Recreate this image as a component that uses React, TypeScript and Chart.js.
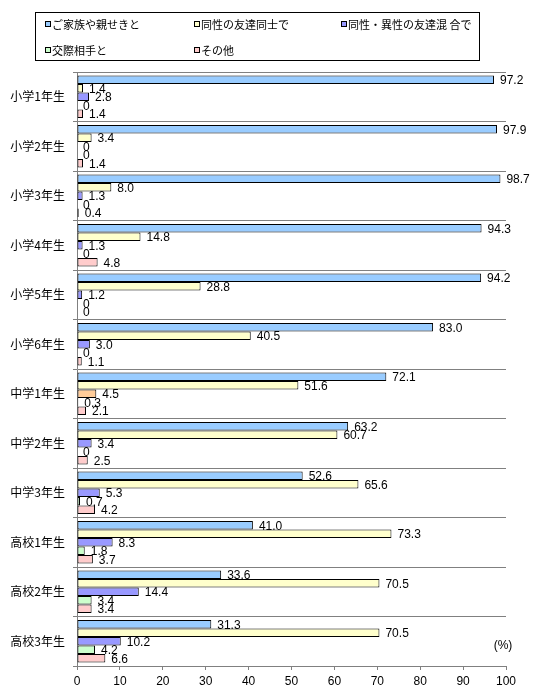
import { useEffect, useRef } from 'react';
import { Chart, registerables } from 'chart.js';

Chart.register(...registerables);

// School years (one group of bars each)
const categories = [
  '小学1年生', '小学2年生', '小学3年生', '小学4年生', '小学5年生', '小学6年生',
  '中学1年生', '中学2年生', '中学3年生', '高校1年生', '高校2年生', '高校3年生',
];

const seriesNames = [
  'ご家族や親せきと',
  '同性の友達同士で',
  '同性・異性の友達混 合で',
  '交際相手と',
  'その他',
];

// Percentages per school year
const withFamily = [97.2, 97.9, 98.7, 94.3, 94.2, 83.0, 72.1, 63.2, 52.6, 41.0, 33.6, 31.3];
const sameSexFriends = [1.4, 3.4, 8.0, 14.8, 28.8, 40.5, 51.6, 60.7, 65.6, 73.3, 70.5, 70.5];
const mixedFriends = [2.8, 0, 1.3, 1.3, 1.2, 3.0, 4.5, 3.4, 5.3, 8.3, 14.4, 10.2];
const withPartner = [0, 0, 0, 0, 0, 0, 0.3, 0, 0.7, 1.8, 3.4, 4.2];
const otherPeople = [1.4, 1.4, 0.4, 4.8, 0, 1.1, 2.1, 2.5, 4.2, 3.7, 3.4, 6.6];

const xTickValues = [0, 10, 20, 30, 40, 50, 60, 70, 80, 90, 100];
const unitLabel = '(%)';

const seriesColors = ['#99CCFF', '#FFFFCC', '#9999FF', '#CCFFCC', '#FFCCCC'];

const CJK = '"Noto Sans CJK JP", "Noto Sans", sans-serif';
const NUM = '"Liberation Sans", Arial, sans-serif';

const fmt = (v: number) => (v === 0 ? '0' : v.toFixed(1));

// Bordered legend box with fixed columns
const legendBoxPlugin = {
  id: 'legendBox',
  afterDraw(chart: any) {
    const ctx = chart.ctx;
    ctx.save();
    ctx.strokeStyle = '#000';
    ctx.lineWidth = 1;
    ctx.strokeRect(35.5, 12.5, 444, 48);
    const cols = [45, 194, 341];
    const rows = [25, 51];
    const slots = [
      [0, 0], [1, 0], [2, 0],
      [0, 1], [1, 1],
    ];
    ctx.font = '11px ' + CJK;
    ctx.textBaseline = 'middle';
    ctx.textAlign = 'left';
    chart.data.datasets.forEach((ds: any, i: number) => {
      const [c, r] = slots[i];
      const x = cols[c];
      const y = rows[r];
      ctx.fillStyle = seriesColors[i];
      ctx.fillRect(x + 0.5, y - 3.5, 5, 5);
      ctx.strokeStyle = '#000';
      ctx.strokeRect(x + 0.5, y - 3.5, 5, 5);
      ctx.fillStyle = '#000';
      ctx.fillText(ds.label, x + 7, y);
    });
    ctx.restore();
  },
};

// Value printed just past the end of each bar, plus the unit note
const valueLabelPlugin = {
  id: 'valueLabels',
  afterDatasetsDraw(chart: any) {
    const ctx = chart.ctx;
    ctx.save();
    ctx.font = '12px ' + NUM;
    ctx.fillStyle = '#000';
    ctx.textBaseline = 'middle';
    ctx.textAlign = 'left';
    chart.data.datasets.forEach((ds: any, di: number) => {
      const meta = chart.getDatasetMeta(di);
      meta.data.forEach((el: any, i: number) => {
        const v = ds.data[i];
        ctx.fillText(fmt(v), el.x + 6, el.y + 1);
      });
    });
    const area = chart.chartArea;
    ctx.textAlign = 'center';
    ctx.fillText(unitLabel, area.right - 3, area.bottom - 20);
    ctx.restore();
  },
};

export default function App() {
  const canvasRef = useRef<HTMLCanvasElement | null>(null);

  useEffect(() => {
    if (!canvasRef.current) return;
    const mixedColors = mixedFriends.map((_, i) => (i === 6 ? '#FFCC99' : seriesColors[2]));
    const partnerColors = withPartner.map((_, i) => (i === 6 ? '#FFFFFF' : seriesColors[3]));
    const values = [withFamily, sameSexFriends, mixedFriends, withPartner, otherPeople];
    const fills: any[] = [seriesColors[0], seriesColors[1], mixedColors, partnerColors, seriesColors[4]];

    const chart = new Chart(canvasRef.current, {
      type: 'bar',
      data: {
        labels: categories,
        datasets: values.map((data, i) => ({
          label: seriesNames[i],
          data,
          backgroundColor: fills[i],
          borderColor: '#000000',
          borderWidth: 1,
          borderSkipped: false,
          categoryPercentage: 0.86,
          barPercentage: 1.0,
        })),
      },
      options: {
        indexAxis: 'y',
        responsive: false,
        animation: false,
        devicePixelRatio: 1,
        layout: { padding: { top: 72, right: 34, left: 0, bottom: 0 } },
        plugins: {
          legend: { display: false },
          tooltip: { enabled: false },
        },
        scales: {
          x: {
            min: 0,
            max: 100,
            afterBuildTicks: (scale: any) => {
              scale.ticks = xTickValues.map((v) => ({ value: v }));
            },
            afterFit: (scale: any) => {
              scale.height = 34;
            },
            ticks: {
              color: '#000',
              font: { size: 12, family: NUM },
              padding: 4,
              maxRotation: 0,
              autoSkip: false,
            },
            grid: {
              drawOnChartArea: false,
              drawTicks: true,
              tickLength: 4,
              color: '#808080',
            },
            border: { color: '#808080' },
          },
          y: {
            afterFit: (scale: any) => {
              scale.width = 77;
            },
            ticks: {
              color: '#000',
              font: { size: 12, family: CJK },
              padding: 8,
              autoSkip: false,
            },
            grid: {
              offset: true,
              color: '#808080',
              tickLength: 4,
            },
            border: { color: '#808080' },
          },
        },
      },
      plugins: [legendBoxPlugin, valueLabelPlugin],
    } as any);

    return () => chart.destroy();
  }, []);

  return (
    <div style={{ position: 'absolute', left: 0, top: 0, width: 540, height: 700, background: '#fff' }}>
      <canvas ref={canvasRef} width={540} height={700} style={{ width: 540, height: 700 }} />
    </div>
  );
}
